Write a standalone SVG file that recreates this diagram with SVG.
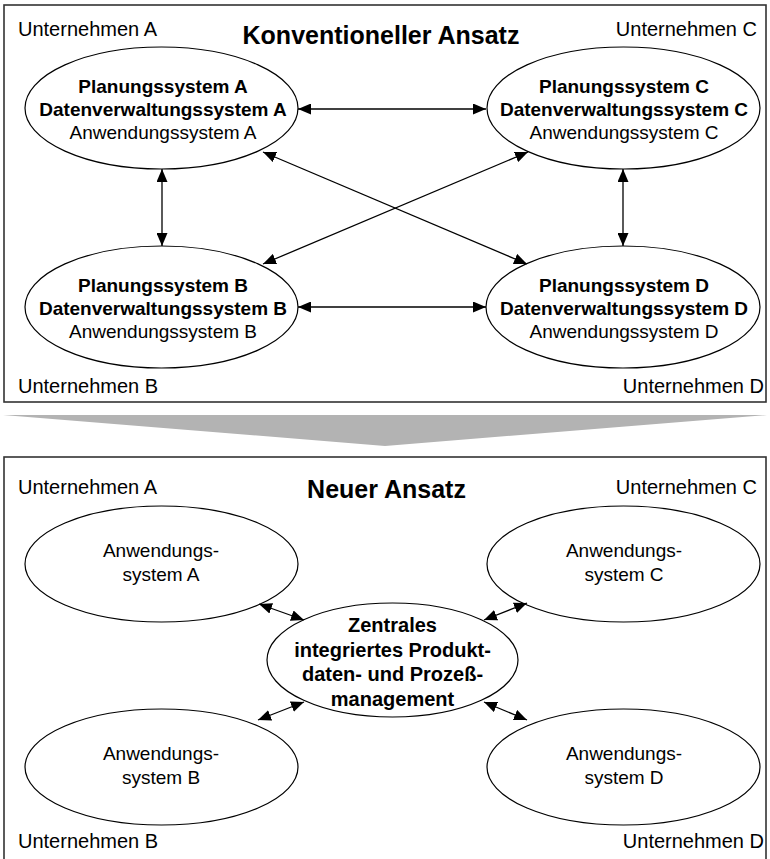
<svg xmlns="http://www.w3.org/2000/svg" width="770" height="859" viewBox="0 0 770 859">
<style>
.frame{fill:#fff;stroke:#333;stroke-width:1.6}
.node ellipse{fill:#fff;stroke:#000;stroke-width:1.2}
text{font-family:"Liberation Sans",Arial,sans-serif;fill:#000}
.lbl{font-size:20px}
.ttl{font-size:25px;font-weight:bold;text-anchor:middle}
.b{font-size:19px;font-weight:bold;text-anchor:middle}
.r{font-size:19px;text-anchor:middle}
.c{font-size:20px;font-weight:bold;text-anchor:middle}
.conn line{stroke:#000;stroke-width:1.3;marker-start:url(#ah);marker-end:url(#ah)}
</style>
<defs>
<marker id="ah" viewBox="0 0 13 11" refX="13" refY="5.5" markerWidth="13" markerHeight="11" markerUnits="userSpaceOnUse" orient="auto-start-reverse">
<path d="M0,0 L13,5.5 L0,11 z" fill="#000"/>
</marker>
</defs>
<rect width="770" height="859" fill="#fff"/>

<!-- top section -->
<rect class="frame" x="4" y="5" width="762" height="397"/>
<text class="lbl" x="18" y="36">Unternehmen A</text>
<text class="lbl" x="757" y="36" text-anchor="end">Unternehmen C</text>
<text class="lbl" x="18" y="393">Unternehmen B</text>
<text class="lbl" x="764" y="393" text-anchor="end">Unternehmen D</text>
<text class="ttl" x="381" y="44">Konventioneller Ansatz</text>

<g id="nodeA">
<g class="node"><ellipse cx="161.5" cy="108" rx="136.5" ry="61"/></g>
<text class="b" x="163" y="93">Planungssystem A</text>
<text class="b" x="163" y="116">Datenverwaltungssystem A</text>
<text class="r" x="163" y="139">Anwendungssystem A</text>
</g>
<g id="nodeC">
<g class="node"><ellipse cx="623.5" cy="108" rx="136.5" ry="61"/></g>
<text class="b" x="624" y="93">Planungssystem C</text>
<text class="b" x="624" y="116">Datenverwaltungssystem C</text>
<text class="r" x="624" y="139">Anwendungssystem C</text>
</g>
<g id="nodeB">
<g class="node"><ellipse cx="161.5" cy="307" rx="136.5" ry="61"/></g>
<text class="b" x="163" y="292">Planungssystem B</text>
<text class="b" x="163" y="315">Datenverwaltungssystem B</text>
<text class="r" x="163" y="338">Anwendungssystem B</text>
</g>
<g id="nodeD">
<g class="node"><ellipse cx="623" cy="307" rx="137" ry="61"/></g>
<text class="b" x="624" y="292">Planungssystem D</text>
<text class="b" x="624" y="315">Datenverwaltungssystem D</text>
<text class="r" x="624" y="338">Anwendungssystem D</text>
</g>

<!-- transition arrow -->
<polygon points="3,415 767,415 385,446" fill="#b3b3b3"/>

<!-- bottom section -->
<rect class="frame" x="4" y="457" width="762" height="420"/>
<text class="lbl" x="18" y="494">Unternehmen A</text>
<text class="lbl" x="757" y="494" text-anchor="end">Unternehmen C</text>
<text class="lbl" x="18" y="848">Unternehmen B</text>
<text class="lbl" x="764" y="848" text-anchor="end">Unternehmen D</text>
<text class="ttl" x="386.5" y="498">Neuer Ansatz</text>

<g id="nodeA2">
<g class="node"><ellipse cx="161.5" cy="564" rx="136.5" ry="58"/></g>
<text class="r" x="161" y="557">Anwendungs-</text>
<text class="r" x="161" y="581">system A</text>
</g>
<g id="nodeC2">
<g class="node"><ellipse cx="623.5" cy="564" rx="136.5" ry="58"/></g>
<text class="r" x="624" y="557">Anwendungs-</text>
<text class="r" x="624" y="581">system C</text>
</g>
<g id="nodeB2">
<g class="node"><ellipse cx="161.5" cy="767" rx="136.5" ry="58"/></g>
<text class="r" x="161" y="760">Anwendungs-</text>
<text class="r" x="161" y="784">system B</text>
</g>
<g id="nodeD2">
<g class="node"><ellipse cx="623.5" cy="767" rx="136.5" ry="58"/></g>
<text class="r" x="624" y="760">Anwendungs-</text>
<text class="r" x="624" y="784">system D</text>
</g>
<g id="nodeZ">
<g class="node"><ellipse cx="392.5" cy="660" rx="125.5" ry="57"/></g>
<text class="c" x="392.5" y="632">Zentrales</text>
<text class="c" x="392.5" y="656.5">integriertes Produkt-</text>
<text class="c" x="392.5" y="681">daten- und Prozeß-</text>
<text class="c" x="392.5" y="705.5">management</text>
</g>

<g id="connectors" class="conn">
<line x1="298" y1="109" x2="486" y2="109"/>
<line x1="298" y1="307" x2="486" y2="307"/>
<line x1="162" y1="169" x2="162" y2="246"/>
<line x1="623" y1="169" x2="623" y2="246"/>
<line x1="263" y1="152" x2="527" y2="264"/>
<line x1="528" y1="152" x2="263" y2="264"/>
<line x1="259" y1="604" x2="304" y2="620"/>
<line x1="527" y1="603" x2="484" y2="620"/>
<line x1="258" y1="720" x2="304" y2="702"/>
<line x1="527" y1="720" x2="484" y2="702"/>
</g>
</svg>
